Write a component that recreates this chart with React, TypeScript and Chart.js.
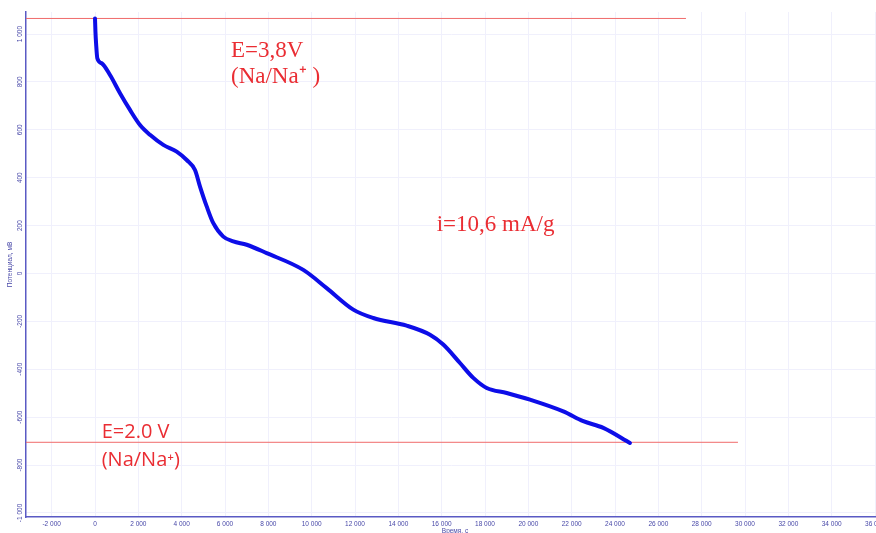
import React, { useEffect, useRef } from "react";
import { Chart, registerables } from "chart.js";

Chart.register(...registerables);

// Discharge curve: time (s) vs potential (mV)
const timeS = [0, 20, 50, 106, 309, 692, 1154, 1615, 2077, 2538, 3152, 3770, 4232, 4615, 4846, 5155, 5460, 5921, 6383, 7001, 7924, 9613, 10693, 11921, 12844, 14385, 15460, 16073, 16845, 17459, 18077, 19000, 20075, 21612, 22535, 23458, 24690];
const potentialMV = [1065, 1010, 960, 899, 878, 829, 753, 683, 620, 579, 537, 509, 474, 432, 363, 280, 210, 154, 134, 120, 85, 15, -61, -151, -186, -218, -256, -297, -374, -436, -478, -499, -527, -576, -617, -645, -708];

// Cut-off reference lines
const upperLineX = [-3185, 27275];
const upperLineY = [1065, 1065];
const lowerLineX = [-3185, 29675];
const lowerLineY = [-705, -705];

// Axis settings
const xMin = -3185;
const xMax = 36046;
const yMin = -1017;
const yMax = 1092;
const xTickValues = [-2000, 0, 2000, 4000, 6000, 8000, 10000, 12000, 14000, 16000, 18000, 20000, 22000, 24000, 26000, 28000, 30000, 32000, 34000, 36000];
const yTickValues = [-1000, -800, -600, -400, -200, 0, 200, 400, 600, 800, 1000];
const xTitle = "Время, с";
const yTitle = "Потенциал, мВ";

// Annotations (text, x in s, y in mV)
const noteTexts = ["E=3,8V", "(Na/Na\u207A )", "i=10,6 mA/g", "E=2.0 V", "(Na/Na\u207A)"];
const noteX = [6276, 6276, 15770, 309, 309];
const noteY = [904, 796, 179, -687, -806];
const noteSerif = [true, true, true, false, false];

const AXIS_COLOR = "#5a5ac4";
const TICK_COLOR = "#4848a8";
const GRID_COLOR = "#f0f0fc";
const RED = "#ea2d33";

function fmt(v: number): string {
  const neg = v < 0;
  const a = Math.abs(Math.round(v));
  const s = a >= 1000 ? Math.floor(a / 1000) + " " + String(a % 1000).padStart(3, "0") : String(a);
  return (neg ? "-" : "") + s;
}

const overlayPlugin = {
  id: "overlay",
  afterDatasetsDraw(chart: any) {
    const { ctx, scales, chartArea } = chart;
    const xs = scales.x;
    const ys = scales.y;
    ctx.save();
    for (let i = 0; i < noteTexts.length; i++) {
      const px = xs.getPixelForValue(noteX[i]);
      const py = ys.getPixelForValue(noteY[i]);
      ctx.fillStyle = RED;
      ctx.font = noteSerif[i] ? '23px "Liberation Serif", serif' : '20px "Open Sans", sans-serif';
      ctx.textAlign = "left";
      ctx.textBaseline = "alphabetic";
      ctx.fillText(noteTexts[i], px, py);
    }
    ctx.fillStyle = TICK_COLOR;
    ctx.font = '6.5px "Liberation Sans", sans-serif';
    ctx.textAlign = "center";
    ctx.textBaseline = "middle";
    for (const t of ys.ticks) {
      const py = ys.getPixelForValue(t.value);
      ctx.save();
      ctx.translate(20, py);
      ctx.rotate(-Math.PI / 2);
      ctx.fillText(fmt(t.value), 0, 0);
      ctx.restore();
    }
    ctx.save();
    ctx.translate(10.5, (chartArea.top + chartArea.bottom) / 2);
    ctx.rotate(-Math.PI / 2);
    ctx.font = '6.5px "Liberation Sans", sans-serif';
    ctx.fillText(yTitle, 0, 0);
    ctx.restore();
    ctx.textBaseline = "top";
    ctx.fillText(xTitle, (chartArea.left + chartArea.right) / 2 + 4, chartArea.bottom + 11);
    ctx.restore();
  },
};

export default function App() {
  const ref = useRef<HTMLCanvasElement | null>(null);
  useEffect(() => {
    if (!ref.current) return;
    const curve = timeS.map((t, i) => ({ x: t, y: potentialMV[i] }));
    const up = upperLineX.map((t, i) => ({ x: t, y: upperLineY[i] }));
    const low = lowerLineX.map((t, i) => ({ x: t, y: lowerLineY[i] }));
    const chart = new Chart(ref.current, {
      type: "line",
      data: {
        datasets: [
          {
            data: curve,
            borderColor: "#0d0de8",
            borderWidth: 4,
            pointRadius: 0,
            cubicInterpolationMode: "monotone",
            borderCapStyle: "round",
            borderJoinStyle: "round",
          },
          { data: up, borderColor: "#f06a6a", borderWidth: 1, pointRadius: 0, tension: 0 },
          { data: low, borderColor: "#f06a6a", borderWidth: 1, pointRadius: 0, tension: 0 },
        ],
      },
      options: {
        responsive: false,
        animation: false,
        devicePixelRatio: 1,
        layout: { padding: { top: 12, left: 0, right: 0, bottom: 0 } },
        plugins: { legend: { display: false }, tooltip: { enabled: false } },
        scales: {
          x: {
            type: "linear",
            min: xMin,
            max: xMax,
            afterBuildTicks: (s: any) => {
              s.ticks = xTickValues.map((v) => ({ value: v }));
            },
            ticks: {
              autoSkip: false,
              maxRotation: 0,
              minRotation: 0,
              padding: 3,
              color: TICK_COLOR,
              font: { size: 6.5, family: '"Liberation Sans", sans-serif' },
              callback: (v: any) => fmt(Number(v)),
            },
            grid: { color: GRID_COLOR, drawTicks: false },
            border: { color: AXIS_COLOR, width: 1.5 },
            afterFit: (s: any) => {
              s.height = 16;
              s.paddingLeft = 0;
              s.paddingRight = 0;
            },
          },
          y: {
            type: "linear",
            min: yMin,
            max: yMax,
            afterBuildTicks: (s: any) => {
              s.ticks = yTickValues.map((v) => ({ value: v }));
            },
            ticks: { display: false },
            grid: { color: GRID_COLOR, drawTicks: false },
            border: { color: AXIS_COLOR, width: 1.5 },
            afterFit: (s: any) => {
              s.width = 26;
              s.paddingTop = 0;
              s.paddingBottom = 0;
            },
          },
        },
      } as any,
      plugins: [overlayPlugin],
    });
    return () => chart.destroy();
  }, []);
  return (
    <canvas
      ref={ref}
      width={876}
      height={533}
      style={{ position: "fixed", left: 0, top: 0, width: 876, height: 533, display: "block", background: "#fff" }}
    />
  );
}
